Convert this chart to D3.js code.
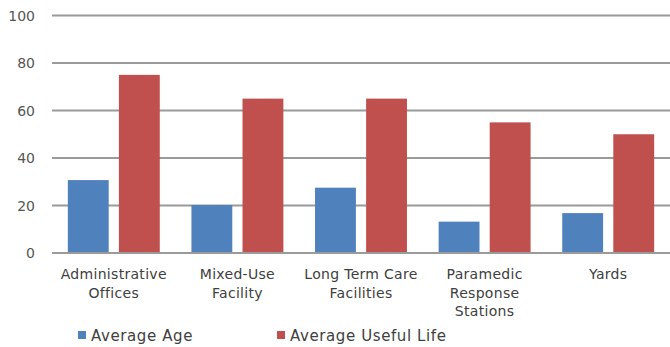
<!DOCTYPE html>
<html>
<head>
<meta charset="utf-8">
<script src="https://cdn.jsdelivr.net/npm/d3@7"></script>
<style>
  html, body { margin: 0; padding: 0; background: #fff; }
  svg { display: block; font-family: "DejaVu Sans", sans-serif; }
</style>
</head>
<body>
<svg id="chart" width="670" height="347"></svg>
<script>
// Facility categories (multi-line labels)
const categories = [
  ["Administrative", "Offices"],
  ["Mixed-Use", "Facility"],
  ["Long Term Care", "Facilities"],
  ["Paramedic", "Response", "Stations"],
  ["Yards"]
];
const seriesNames = ["Average Age", "Average Useful Life"];
const averageAge = [30.7, 20.2, 27.5, 13.2, 16.8];
const averageUsefulLife = [75, 65, 65, 55, 50];
const yTicks = [0, 20, 40, 60, 80, 100];

const colors = ["#4F81BD", "#C0504D"];
const seriesValues = [averageAge, averageUsefulLife];

const svg = d3.select("#chart");
const margin = { left: 52, right: 0, top: 15.5 };
const width = 670;
const plotBottom = 253;

const x = d3.scaleBand()
  .domain(d3.range(categories.length))
  .range([margin.left, width - margin.right])
  .paddingInner(0)
  .paddingOuter(0);

const y = d3.scaleLinear().domain([0, 100]).range([plotBottom, margin.top]);

// Horizontal gridlines
svg.append("g")
  .selectAll("line")
  .data(yTicks)
  .join("line")
  .attr("x1", margin.left)
  .attr("x2", width - margin.right)
  .attr("y1", d => y(d))
  .attr("y2", d => y(d))
  .attr("stroke", "#9a9a9a")
  .attr("stroke-width", 2);

// Y-axis tick labels
svg.append("g")
  .selectAll("text")
  .data(yTicks)
  .join("text")
  .attr("x", 35)
  .attr("y", d => y(d))
  .attr("dy", "0.36em")
  .attr("text-anchor", "end")
  .attr("fill", "#555")
  .attr("font-size", 14)
  .text(d => d);

// Bars within each category
const inner = d3.scaleBand()
  .domain(d3.range(seriesNames.length))
  .range([0, x.bandwidth()])
  .paddingOuter(0.31)
  .paddingInner(0.2);

const groups = svg.append("g")
  .selectAll("g")
  .data(categories.map((c, i) => i))
  .join("g")
  .attr("transform", i => `translate(${x(i)},0)`);

groups.selectAll("rect")
  .data(i => seriesValues.map((vals, s) => ({ s, v: vals[i] })))
  .join("rect")
  .attr("x", d => inner(d.s))
  .attr("width", inner.bandwidth())
  .attr("y", d => y(d.v))
  .attr("height", d => y(0) - y(d.v))
  .attr("fill", d => colors[d.s]);

// Baseline axis redrawn on top of bars
svg.append("line")
  .attr("x1", margin.left)
  .attr("x2", width - margin.right)
  .attr("y1", y(0))
  .attr("y2", y(0))
  .attr("stroke", "#9a9a9a")
  .attr("stroke-width", 2);

// Category labels
const labels = svg.append("g")
  .selectAll("text")
  .data(categories)
  .join("text")
  .attr("text-anchor", "middle")
  .attr("fill", "#404040")
  .attr("font-size", 14)
  .attr("letter-spacing", 0.3);

labels.selectAll("tspan")
  .data((lines, i) => lines.map(l => ({ l, i })))
  .join("tspan")
  .attr("x", d => x(d.i) + x.bandwidth() / 2)
  .attr("y", (d, j) => 279 + j * 18.5)
  .text(d => d.l);

// Legend
const legendX = [78, 277];
const legend = svg.append("g")
  .selectAll("g")
  .data(seriesNames)
  .join("g")
  .attr("transform", (d, i) => `translate(${legendX[i]},0)`);

legend.append("rect")
  .attr("x", 0)
  .attr("y", 331)
  .attr("width", 8)
  .attr("height", 8)
  .attr("fill", (d, i) => colors[i]);

legend.append("text")
  .attr("x", 13)
  .attr("y", 341)
  .attr("fill", "#404040")
  .attr("font-size", 15)
  .attr("letter-spacing", 0.6)
  .text(d => d);
</script>
</body>
</html>
